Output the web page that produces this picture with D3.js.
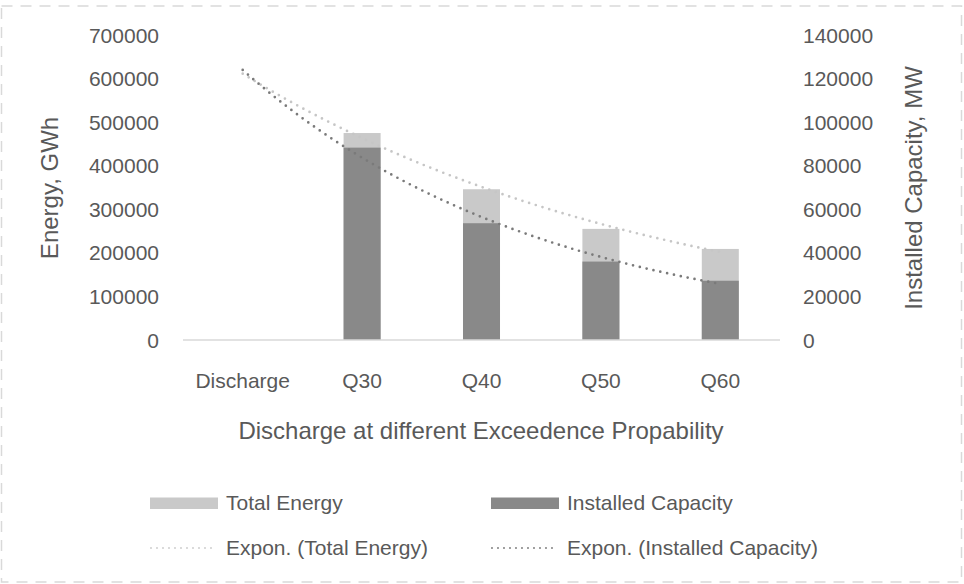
<!DOCTYPE html>
<html>
<head>
<meta charset="utf-8">
<script src="https://cdn.jsdelivr.net/npm/d3@7"></script>
<style>
  html, body { margin: 0; padding: 0; background: #fff; }
  svg { display: block; }
  text { font-family: "Liberation Sans", Arial, sans-serif; fill: #595959; }
</style>
</head>
<body>
<div id="chart"></div>
<script>
// chart data
const categories = ["Discharge", "Q30", "Q40", "Q50", "Q60"];
const totalEnergy = [null, 475000, 346000, 255000, 209000];      // GWh, left axis
const installedCapacity = [null, 88300, 53600, 36000, 27200];    // MW, right axis
const leftTicks = [0, 100000, 200000, 300000, 400000, 500000, 600000, 700000];
const rightTicks = [0, 20000, 40000, 60000, 80000, 100000, 120000, 140000];

const width = 964, height = 584;
const plot = { left: 183, right: 780, top: 35, bottom: 340 };

const svg = d3.select("#chart").append("svg")
    .attr("width", width)
    .attr("height", height);

// dashed chart frame
svg.append("rect")
    .attr("x", 1.5).attr("y", 6)
    .attr("width", 960).attr("height", 576)
    .attr("fill", "none")
    .attr("stroke", "#d9d9d9")
    .attr("stroke-width", 1.5)
    .attr("stroke-dasharray", "11 8");

const x = d3.scaleBand()
    .domain(categories)
    .range([plot.left, plot.right])
    .paddingInner(0.69)
    .paddingOuter(0.345);

const yLeft = d3.scaleLinear().domain([0, 700000]).range([plot.bottom, plot.top]);
const yRight = d3.scaleLinear().domain([0, 140000]).range([plot.bottom, plot.top]);

// Excel style exponential trendline: ln(y) = ln(a) + b*x, x = 1..n
function fitExp(values) {
    const pts = values.map((v, i) => [i + 1, v]).filter(p => p[1] != null);
    const n = pts.length;
    const mx = d3.mean(pts, p => p[0]);
    const my = d3.mean(pts, p => Math.log(p[1]));
    let sxy = 0, sxx = 0;
    pts.forEach(p => {
        sxy += (p[0] - mx) * (Math.log(p[1]) - my);
        sxx += (p[0] - mx) * (p[0] - mx);
    });
    const b = sxy / sxx;
    const a = Math.exp(my - b * mx);
    return t => a * Math.exp(b * t);
}

const xIndex = t => x(categories[0]) + x.bandwidth() / 2 + (t - 1) * x.step();

// left axis labels
svg.append("g").selectAll("text")
    .data(leftTicks)
    .join("text")
    .attr("x", 159)
    .attr("y", d => yLeft(d))
    .attr("dy", "0.36em")
    .attr("text-anchor", "end")
    .attr("font-size", 21)
    .text(d => d);

// right axis labels
svg.append("g").selectAll("text")
    .data(rightTicks)
    .join("text")
    .attr("x", 803)
    .attr("y", d => yRight(d))
    .attr("dy", "0.36em")
    .attr("text-anchor", "start")
    .attr("font-size", 21)
    .text(d => d);

// bars: total energy (primary) then installed capacity (secondary) on top
svg.append("g").selectAll("rect")
    .data(categories.map((c, i) => ({ c, v: totalEnergy[i] })).filter(d => d.v != null))
    .join("rect")
    .attr("x", d => x(d.c))
    .attr("y", d => yLeft(d.v))
    .attr("width", x.bandwidth())
    .attr("height", d => plot.bottom - yLeft(d.v))
    .attr("fill", "#c9c9c9");

svg.append("g").selectAll("rect")
    .data(categories.map((c, i) => ({ c, v: installedCapacity[i] })).filter(d => d.v != null))
    .join("rect")
    .attr("x", d => x(d.c))
    .attr("y", d => yRight(d.v))
    .attr("width", x.bandwidth())
    .attr("height", d => plot.bottom - yRight(d.v))
    .attr("fill", "#898989");

// category axis line
svg.append("line")
    .attr("x1", plot.left).attr("x2", plot.right)
    .attr("y1", plot.bottom).attr("y2", plot.bottom)
    .attr("stroke", "#d9d9d9")
    .attr("stroke-width", 1.5);

// trendlines
const steps = d3.range(1, 5.0001, 0.05);
const trends = [
    { f: fitExp(totalEnergy), y: yLeft, color: "#c6c6c6" },
    { f: fitExp(installedCapacity), y: yRight, color: "#7a7a7a" }
];
trends.forEach(t => {
    svg.append("path")
        .datum(steps)
        .attr("d", d3.line().x(s => xIndex(s)).y(s => t.y(t.f(s))))
        .attr("fill", "none")
        .attr("stroke", t.color)
        .attr("stroke-width", 2.7)
        .attr("stroke-linecap", "round")
        .attr("stroke-dasharray", "0 7");
});

// category labels
svg.append("g").selectAll("text")
    .data(categories)
    .join("text")
    .attr("x", d => x(d) + x.bandwidth() / 2)
    .attr("y", 388)
    .attr("text-anchor", "middle")
    .attr("font-size", 21)
    .text(d => d);

// axis titles
svg.append("text")
    .attr("x", 481).attr("y", 439)
    .attr("text-anchor", "middle")
    .attr("font-size", 24)
    .text("Discharge at different Exceedence Propability");

svg.append("text")
    .attr("transform", "translate(58,188) rotate(-90)")
    .attr("text-anchor", "middle")
    .attr("font-size", 24)
    .text("Energy, GWh");

svg.append("text")
    .attr("transform", "translate(922,188) rotate(-90)")
    .attr("text-anchor", "middle")
    .attr("font-size", 24)
    .text("Installed Capacity, MW");

// legend
const legendItems = [
    { label: "Total Energy", kind: "bar", color: "#c9c9c9", col: 0, row: 0 },
    { label: "Installed Capacity", kind: "bar", color: "#898989", col: 1, row: 0 },
    { label: "Expon. (Total Energy)", kind: "dots", color: "#cccccc", col: 0, row: 1 },
    { label: "Expon. (Installed Capacity)", kind: "dots", color: "#7a7a7a", col: 1, row: 1 }
];
const legend = svg.append("g");
legendItems.forEach(d => {
    const lx = 150 + d.col * 341;
    const ly = 503 + d.row * 45;
    if (d.kind === "bar") {
        legend.append("rect")
            .attr("x", lx).attr("y", ly - 5.5)
            .attr("width", 68).attr("height", 11.5)
            .attr("fill", d.color);
    } else {
        legend.append("line")
            .attr("x1", lx + 1).attr("x2", lx + 67)
            .attr("y1", ly).attr("y2", ly)
            .attr("stroke", d.color)
            .attr("stroke-width", 1.9)
            .attr("stroke-linecap", "round")
            .attr("stroke-dasharray", "0 6");
    }
    legend.append("text")
        .attr("x", lx + 76)
        .attr("y", ly + 6.5)
        .attr("font-size", 21)
        .text(d.label);
});
</script>
</body>
</html>
